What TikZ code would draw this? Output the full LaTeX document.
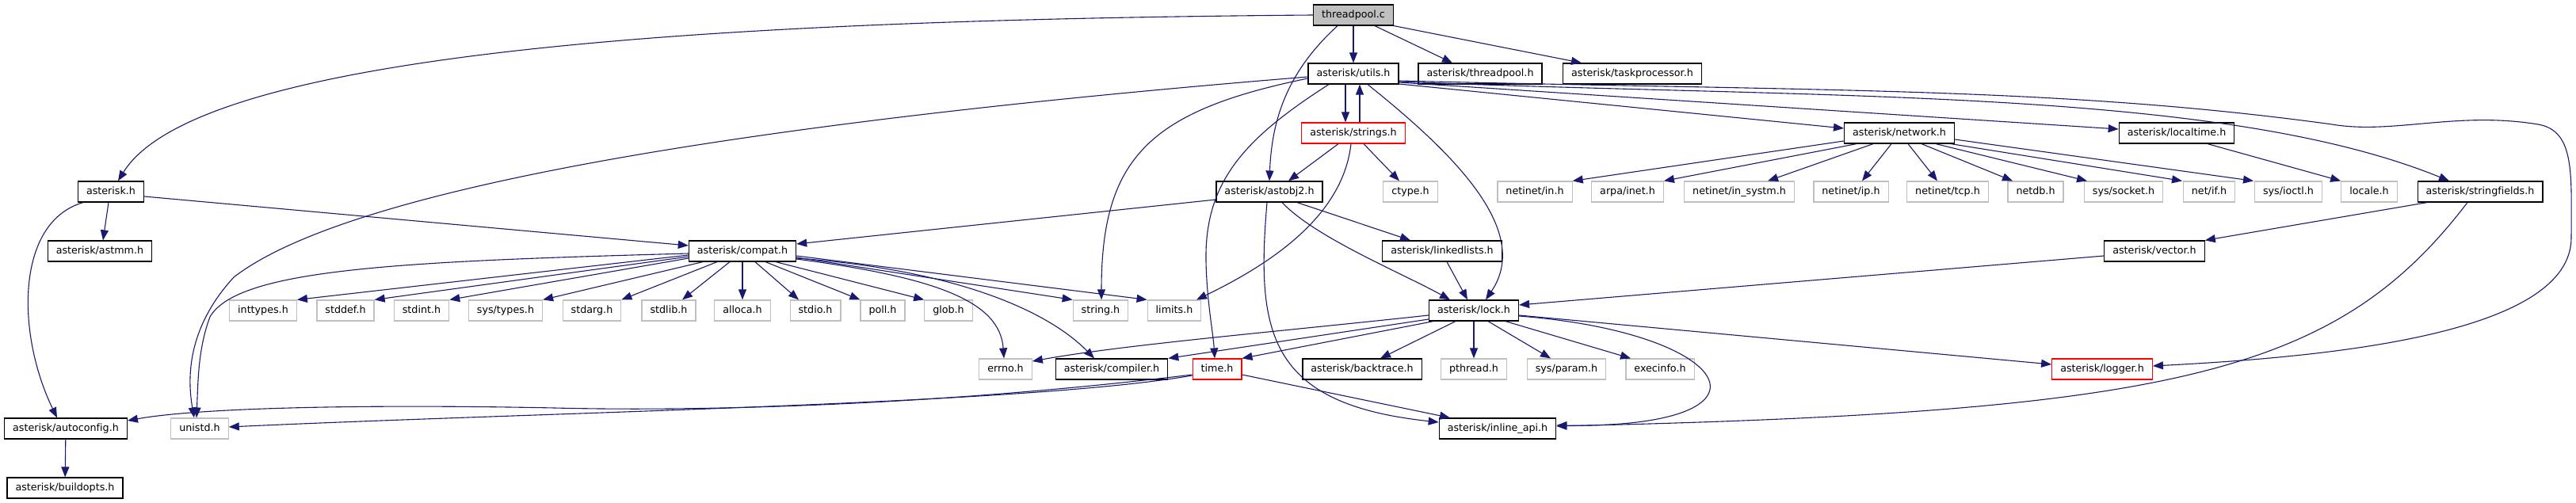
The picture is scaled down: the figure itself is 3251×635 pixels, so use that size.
\documentclass[tikz,border=0pt]{standalone}
\usepackage{fontspec}
\setmainfont{DejaVu Sans}[Ligatures=NoCommon]
\usetikzlibrary{arrows.meta,calc}
\definecolor{edgec}{HTML}{191970}
\definecolor{lgray}{HTML}{BFBFBF}
\begin{document}
\begin{tikzpicture}[x=1bp,y=-1bp,
  box/.style={draw=black, fill=white, line width=1.2bp, minimum height=26bp, inner xsep=10.5bp, inner ysep=0bp, text height=9.5bp, text depth=2.6bp, font=\fontsize{12.7bp}{15bp}\selectfont},
  ext/.style={box, draw=lgray},
  redbox/.style={box, draw=red},
  rootbox/.style={box, fill=lgray},
  dep/.style={draw=edgec, line width=1.1bp, -{Triangle[length=13bp,width=10bp]}}]
\useasboundingbox (0,0) rectangle (3251,635);
% row 1
\node[rootbox] (tp) at (1708,19) {threadpool.c};
% row 2
\node[box] (ut) at (1708,93) {asterisk/utils.h};
\node[box] (tph) at (1868,93) {asterisk/threadpool.h};
\node[box] (tpr) at (2060,93) {asterisk/taskprocessor.h};
% row 3
\node[redbox] (st) at (1708,168) {asterisk/strings.h};
\node[box] (nw) at (2397,168) {asterisk/network.h};
\node[box] (lt) at (2747,168) {asterisk/localtime.h};
% row 4
\node[box] (ah) at (140,242) {asterisk.h};
\node[box] (ao) at (1602,242) {asterisk/astobj2.h};
\node[ext] (ct) at (1780,242) {ctype.h};
\node[ext] (nin) at (1937,242) {netinet/in.h};
\node[ext] (arpa) at (2054,242) {arpa/inet.h};
\node[ext] (insys) at (2195,242) {netinet/in\_systm.h};
\node[ext] (ip) at (2336,242) {netinet/ip.h};
\node[ext] (tcp) at (2458,242) {netinet/tcp.h};
\node[ext] (ndb) at (2569,242) {netdb.h};
\node[ext] (sock) at (2680,242) {sys/socket.h};
\node[ext] (nif) at (2788,242) {net/if.h};
\node[ext] (ioc) at (2888,242) {sys/ioctl.h};
\node[ext] (loc) at (2990,242) {locale.h};
\node[box] (sf) at (3130,242) {asterisk/stringfields.h};
% row 5
\node[box] (am) at (126,317) {asterisk/astmm.h};
\node[box] (cp) at (937,317) {asterisk/compat.h};
\node[box] (ll) at (1820,317) {asterisk/linkedlists.h};
\node[box] (ve) at (2719,317) {asterisk/vector.h};
% row 6
\node[ext] (inttypes) at (332,392) {inttypes.h};
\node[ext] (stddef) at (436,392) {stddef.h};
\node[ext] (stdint) at (532,392) {stdint.h};
\node[ext] (systypes) at (638,392) {sys/types.h};
\node[ext] (stdarg) at (747,392) {stdarg.h};
\node[ext] (stdlib) at (844,392) {stdlib.h};
\node[ext] (alloca) at (937,392) {alloca.h};
\node[ext] (stdio) at (1029,392) {stdio.h};
\node[ext] (poll) at (1114,392) {poll.h};
\node[ext] (glob) at (1197,392) {glob.h};
\node[ext] (string) at (1389,392) {string.h};
\node[ext] (limits) at (1482,392) {limits.h};
\node[box] (lock) at (1860,392) {asterisk/lock.h};
% row 7
\node[ext] (errno) at (1269,466) {errno.h};
\node[box] (comp) at (1403,466) {asterisk/compiler.h};
\node[redbox] (time) at (1536,466) {time.h};
\node[box] (bt) at (1719,466) {asterisk/backtrace.h};
\node[ext] (pth) at (1860,466) {pthread.h};
\node[ext] (sp) at (1977,466) {sys/param.h};
\node[ext] (ei) at (2095,466) {execinfo.h};
\node[redbox] (lg) at (2653,466) {asterisk/logger.h};
% row 8
\node[box] (ac) at (83,541) {asterisk/autoconfig.h};
\node[ext] (un) at (252,541) {unistd.h};
\node[box] (ia) at (1890,541) {asterisk/inline\_api.h};
% row 9
\node[box] (bo) at (82,616) {asterisk/buildopts.h};

% threadpool.c
\draw[dep] (tp.west) .. controls (900,25) and (250,65) .. ($(ah.north)+(9,0)$);
\draw[dep] (tp) -- (ut);
\draw[dep] ($(tp.south)+(-20,0)$) .. controls (1625,90) and (1605,150) .. (ao.north);
\draw[dep] ($(tp.south)+(27,0)$) -- ($(tph.north)+(-35,0)$);
\draw[dep] (tp.south east) -- ($(tpr.north)+(-64,0)$);
% utils.h
\draw[dep] ($(ut.south)+(-10,0)$) -- ($(st.north)+(-10,0)$);
\draw[dep] ($(st.north)+(8,0)$) -- ($(ut.south)+(8,0)$);
\draw[dep] ($(ut.west)+(0,4)$) .. controls (1000,150) and (450,230) .. (295,350) .. controls (240,410) and (235,470) .. ($(un.north)+(-7,0)$);
\draw[dep] ($(ut.west)+(0,6)$) .. controls (1450,140) and (1390,200) .. ($(string.north)+(1,0)$);
\draw[dep] ($(ut.south)+(-31,0)$) .. controls (1570,175) and (1520,230) .. (1522,330) .. controls (1523,380) and (1531,420) .. ($(time.north)+(-3,0)$);
\draw[dep] ($(ut.south)+(18,0)$) .. controls (1830,190) and (1935,290) .. ($(lock.north)+(15,0)$);
\draw[dep] ($(ut.east)+(0,13)$) -- ($(nw.west)+(0,-6)$);
\draw[dep] ($(ut.east)+(0,11)$) -- ($(lt.west)+(0,-5)$);
\draw[dep] ($(ut.east)+(0,10)$) .. controls (2300,125) and (2800,110) .. ($(sf.north)+(-39,0)$);
\draw[dep] ($(ut.east)+(0,9)$) .. controls (2300,115) and (2600,110) .. (2943,157) .. controls (3020,170) and (3100,140) .. (3203,157) .. controls (3250,165) and (3245,220) .. (3245,300) .. controls (3245,420) and (2950,450) .. ($(lg.east)+(0,-4)$);
% strings.h
\draw[dep] ($(st.south)+(-19,0)$) -- ($(ao.north)+(24,0)$);
\draw[dep] ($(st.south)+(13,0)$) -- ($(ct.north)+(-14,0)$);
\draw[dep] ($(st.south)+(-3,0)$) .. controls (1695,270) and (1610,330) .. ($(limits.north)+(28,0)$);
% astobj2.h
\draw[dep] ($(ao.west)+(0,10)$) -- ($(cp.east)+(0,-9)$);
\draw[dep] ($(ao.south)+(35,0)$) -- ($(ll.north)+(-40,0)$);
\draw[dep] ($(ao.south)+(16,0)$) .. controls (1660,300) and (1770,345) .. ($(lock.north)+(-30,0)$);
\draw[dep] ($(ao.south)+(-3,0)$) .. controls (1585,420) and (1600,510) .. ($(ia.west)+(0,-8)$);
% linkedlists, vector, stringfields
\draw[dep] ($(ll.south)+(6,0)$) -- ($(lock.north)+(-8,0)$);
\draw[dep] ($(ve.west)+(0,6)$) -- ($(lock.east)+(0,-7)$);
\draw[dep] ($(sf.south)+(-67,0)$) -- (ve.north east);
\draw[dep] ($(sf.south)+(-16,0)$) .. controls (2950,470) and (2750,520) .. ($(ia.east)+(0,-3)$);
% network.h
\draw[dep] ($(nw.west)+(0,10)$) -- (nin.north east);
\draw[dep] ($(nw.south)+(-54,0)$) -- (arpa.north east);
\draw[dep] ($(nw.south)+(-33,0)$) -- ($(insys.north)+(36,0)$);
\draw[dep] ($(nw.south)+(-10,0)$) -- ($(ip.north)+(14,0)$);
\draw[dep] ($(nw.south)+(11,0)$) -- ($(tcp.north)+(-13,0)$);
\draw[dep] ($(nw.south)+(28,0)$) -- ($(ndb.north)+(-29,0)$);
\draw[dep] ($(nw.south)+(46,0)$) -- ($(sock.north)+(-46,0)$);
\draw[dep] ($(nw.south)+(65,0)$) -- ($(nif.north)+(-34,0)$);
\draw[dep] ($(nw.east)+(0,8)$) -- ($(ioc.north)+(-44,0)$);
\draw[dep] ($(lt.south)+(39,0)$) -- (loc.north west);
% asterisk.h
\draw[dep] ($(ah.south)+(-3,0)$) -- ($(am.north)+(4,0)$);
\draw[dep] ($(ah.east)+(0,6)$) -- ($(cp.west)+(0,-7)$);
\draw[dep] ($(ah.south)+(-35,0)$) .. controls (20,280) and (20,420) .. ($(ac.north)+(-11,0)$);
\draw[dep] (ac) -- (bo);
% compat.h
\draw[dep] ($(cp.west)+(0,5)$) -- (inttypes.north east);
\draw[dep] ($(cp.west)+(0,7)$) -- (stddef.north east);
\draw[dep] ($(cp.west)+(0,9)$) -- (stdint.north east);
\draw[dep] ($(cp.south)+(-50,0)$) -- (systypes.north east);
\draw[dep] ($(cp.south)+(-32,0)$) -- (stdarg.north east);
\draw[dep] ($(cp.south)+(-16,0)$) -- ($(stdlib.north)+(17,0)$);
\draw[dep] (cp) -- (alloca);
\draw[dep] ($(cp.south)+(16,0)$) -- ($(stdio.north)+(-21,0)$);
\draw[dep] ($(cp.south)+(29,0)$) -- (poll.north west);
\draw[dep] ($(cp.south)+(42,0)$) -- (glob.north west);
\draw[dep] ($(cp.east)+(0,8)$) -- (string.north west);
\draw[dep] ($(cp.east)+(0,6)$) -- (limits.north west);
\draw[dep] ($(cp.east)+(0,10)$) .. controls (1180,350) and (1262,380) .. ($(errno.north)+(-2,0)$);
\draw[dep] ($(cp.east)+(0,9)$) .. controls (1200,340) and (1320,390) .. ($(comp.north)+(-22,0)$);
\draw[dep] ($(cp.west)+(0,3)$) .. controls (500,330) and (300,340) .. (265,400) .. controls (250,440) and (250,480) .. ($(un.north)+(-4,0)$);
% lock.h
\draw[dep] ($(lock.west)+(0,6)$) .. controls (1600,420) and (1420,435) .. ($(errno.east)+(0,-10)$);
\draw[dep] ($(lock.west)+(0,11)$) -- (comp.north east);
\draw[dep] ($(lock.south)+(-51,0)$) -- (time.north east);
\draw[dep] ($(lock.south)+(-23,0)$) -- ($(bt.north)+(23,0)$);
\draw[dep] (lock) -- (pth);
\draw[dep] ($(lock.south)+(18,0)$) -- ($(sp.north)+(-20,0)$);
\draw[dep] ($(lock.south)+(40,0)$) -- ($(ei.north)+(-37,0)$);
\draw[dep] ($(lock.east)+(0,6)$) -- ($(lg.west)+(0,-6)$);
\draw[dep] ($(lock.east)+(0,7)$) .. controls (2190,420) and (2260,540) .. ($(ia.east)+(0,-4)$);
% time.h
\draw[dep] ($(time.west)+(0,8)$) .. controls (1300,510) and (700,520) .. ($(un.east)+(0,-2)$);
\draw[dep] ($(time.west)+(0,7)$) .. controls (1200,510) and (900,520) .. (700,515) .. controls (450,510) and (250,515) .. ($(ac.east)+(0,-10)$);
\draw[dep] ($(time.east)+(0,7)$) -- ($(ia.north)+(-60,0)$);
\end{tikzpicture}
\end{document}
